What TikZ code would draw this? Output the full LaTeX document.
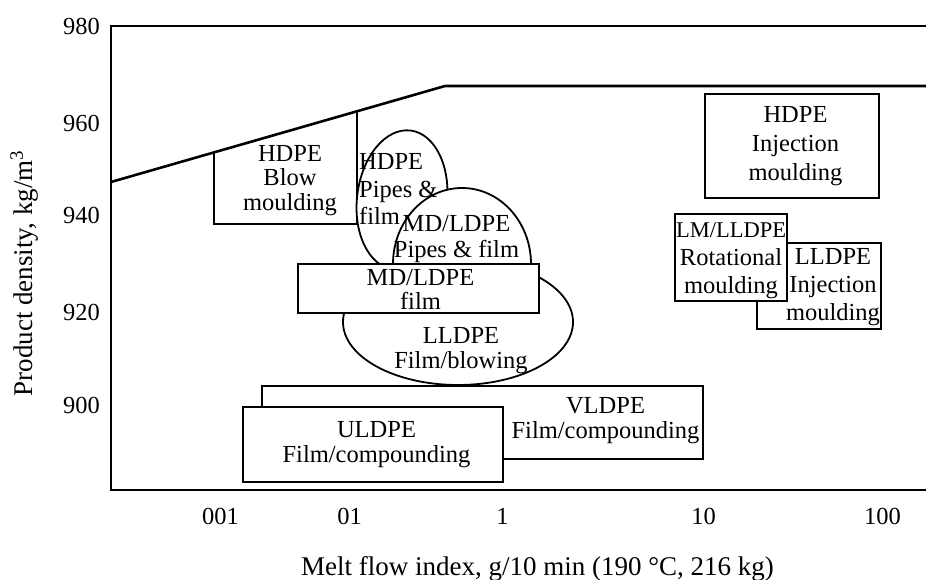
\documentclass[tikz,border=0pt]{standalone}
\usepackage{fontspec}
\setmainfont{Liberation Serif}
\begin{document}
\begin{tikzpicture}[x=1pt,y=-1pt,
  axisline/.style={line width=2.6pt},
  boxline/.style={draw, line width=2.8pt},
  ell/.style={draw, line width=1.8pt, fill=white},
  lbl/.style={inner sep=0pt, align=center, font=\fontsize{24.5}{#1}\selectfont},
  lbl/.default=25,
  tick/.style={inner sep=0pt, font=\fontsize{24.5}{24.5}\selectfont},
  axtitle/.style={inner sep=0pt, font=\fontsize{27}{27}\selectfont}]
\path[use as bounding box] (0,0) rectangle (926,580);
% frame
\draw[axisline] (926,26) -- (111,26) -- (111,490) -- (926,490);
\coordinate (s0) at (111,182);
\coordinate (s1) at (445,86);
\coordinate (s2) at (926,86);
\draw[axisline] (s0) -- (s1) -- (s2);
% HDPE blow moulding
\draw[boxline] (214,152.4) -- (214,224) -- (357,224) -- (357,111.3);
% LLDPE film/blowing ellipse
\draw[ell] (458,322) ellipse [x radius=115, y radius=63];
% HDPE pipes & film ellipse
\draw[ell, rotate around={-7:(402,200)}] (402,200) ellipse [x radius=45, y radius=70];
% MD/LDPE pipes & film
\begin{scope}
  \clip (380,150) rectangle (545,264);
  \draw[ell] (462,264) ellipse [x radius=69, y radius=76];
\end{scope}
% MD/LDPE film
\draw[boxline, fill=white] (298,264) rectangle (539,313);
% VLDPE
\draw[boxline, fill=white] (262,386) rectangle (703,459);
% ULDPE
\draw[boxline, fill=white] (243,407) rectangle (503,482);
% HDPE injection
\draw[boxline] (705,94) rectangle (879,198);
% LLDPE injection
\draw[boxline] (757,243) rectangle (881,329);
% LM/LLDPE rotational
\draw[boxline, fill=white] (675,214) rectangle (787,301);

% labels
\node[lbl=24.5] (blow) at (290,180.5) {HDPE\\Blow\\moulding};
\node[lbl=27.5, align=left, anchor=west] (pipes) at (359,189) {HDPE\\Pipes \&\\film};
\node[lbl=26] (mdpipes) at (456.5,239.5) {MD/LDPE\\Pipes \& film};
\node[lbl=24.5] (mdfilm) at (420.5,289.5) {MD/LDPE\\film};
\node[lbl] (lldfilm) at (461,350.5) {LLDPE\\Film/blowing};
\node[lbl] (uld) at (376.5,445) {ULDPE\\Film/compounding};
\node[lbl] (vld) at (605.5,420.5) {VLDPE\\Film/compounding};
\node[lbl=29] (hdinj) at (795.5,146.5) {HDPE\\Injection\\moulding};
\node[lbl=28] (lmrot) at (731,261) {{\fontsize{22.5}{28}\selectfont LM/LLDPE}\\Rotational\\moulding};
\node[lbl=28] (llinj) at (833,287.5) {LLDPE\\Injection\\moulding};

% y ticks
\node[tick, anchor=east] (y980) at (100,26.5) {980};
\node[tick, anchor=east] (y960) at (100,123.5) {960};
\node[tick, anchor=east] (y940) at (100,215) {940};
\node[tick, anchor=east] (y920) at (100,312.5) {920};
\node[tick, anchor=east] (y900) at (100,405) {900};
% x ticks
\node[tick] (x001) at (220.5,516.5) {001};
\node[tick] (x01) at (349.5,516.5) {01};
\node[tick] (x1) at (502.5,516.5) {1};
\node[tick] (x10) at (703.5,516.5) {10};
\node[tick] (x100) at (882.5,516.5) {100};
% axis titles
\node[axtitle, anchor=base] (xtitle) at (537.5,575) {Melt flow index, g/10 min (190 °C, 216 kg)};
\node[axtitle, anchor=base, rotate=90] (ytitle) at (32,273.5) {Product density, kg/m\textsuperscript{3}};
\end{tikzpicture}
\end{document}
